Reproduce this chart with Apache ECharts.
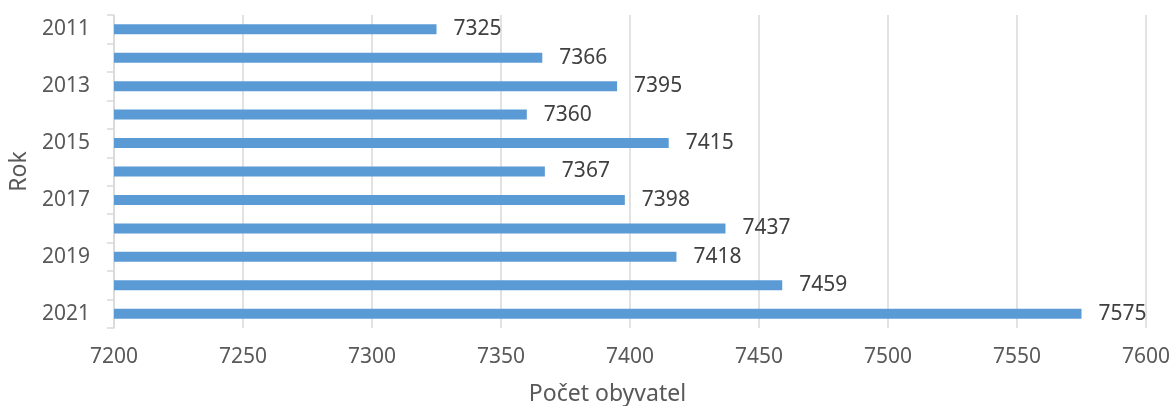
<!DOCTYPE html>
<html>
<head>
<meta charset="utf-8">
<script src="https://cdn.jsdelivr.net/npm/echarts@6/dist/echarts.min.js"></script>
<style>
  html, body { margin: 0; padding: 0; background: #fff; }
  #chart { width: 1171px; height: 406px; }
</style>
</head>
<body>
<div id="chart"></div>
<script>
// data
const years = ["2011", "2012", "2013", "2014", "2015", "2016", "2017", "2018", "2019", "2020", "2021"];
const population = [7325, 7366, 7395, 7360, 7415, 7367, 7398, 7437, 7418, 7459, 7575];
const xMin = 7200;
const xMax = 7600;
const xStep = 50;

const font = "'Noto Sans', sans-serif";
const gridColor = "#d9d9d9";

const chart = echarts.init(document.getElementById("chart"));
chart.setOption({
  animation: false,
  grid: { left: 114, right: 25, top: 15, bottom: 78, containLabel: false, outerBoundsMode: "none" },
  xAxis: {
    type: "value",
    min: xMin,
    max: xMax,
    interval: xStep,
    name: "Počet obyvatel",
    nameLocation: "middle",
    nameGap: 55,
    nameTextStyle: { fontFamily: font, fontSize: 23, color: "#595959", padding: [0, 45, 0, 0] },
    axisLine: { show: false },
    axisTick: { show: false },
    axisLabel: {
      fontFamily: font, fontSize: 21, color: "#595959", margin: 19,
      formatter: function (v) { return String(v); }
    },
    splitLine: { show: true, lineStyle: { color: gridColor, width: 1.5 } }
  },
  yAxis: {
    type: "category",
    inverse: true,
    data: years,
    name: "Rok",
    nameLocation: "middle",
    nameGap: 80,
    nameTextStyle: { fontFamily: font, fontSize: 23, color: "#595959" },
    axisLine: { show: true, lineStyle: { color: gridColor, width: 1.5 } },
    axisTick: { show: true, length: 7, interval: 0, lineStyle: { color: gridColor, width: 1.5 } },
    axisLabel: { interval: 1, fontFamily: font, fontSize: 21, color: "#595959", margin: 24 }
  },
  series: [{
    type: "bar",
    data: population,
    barWidth: 10,
    itemStyle: { color: "#5b9bd5" },
    label: {
      show: true,
      position: "right",
      distance: 17,
      fontFamily: font,
      fontSize: 21,
      color: "#404040"
    }
  }]
});
</script>
</body>
</html>
